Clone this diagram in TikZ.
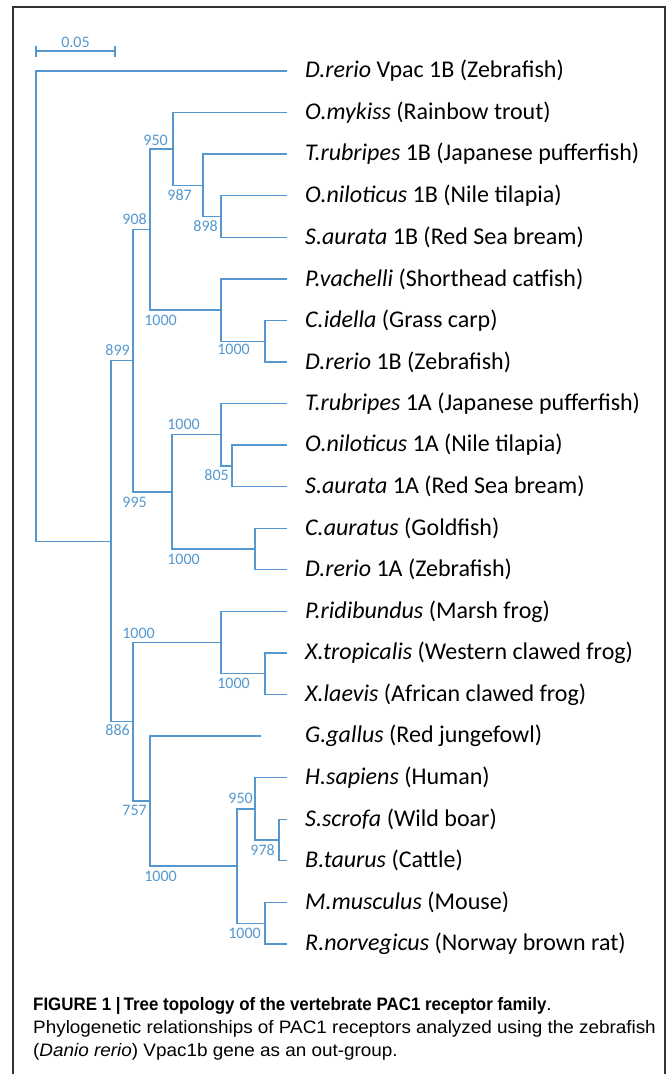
\documentclass[tikz,border=0pt]{standalone}
\usepackage{fontspec}
\setmainfont{Carlito}
\newfontfamily\capfont{Liberation Sans}[FakeStretch=1.05]
\newfontfamily\capboldfont{Liberation Sans Bold}[FakeStretch=0.94]
\usetikzlibrary{positioning,calc}
\definecolor{treeblue}{RGB}{84,152,207}

\begin{document}
\begin{tikzpicture}[x=1pt, y=-1pt,
        branch/.style={draw=treeblue, line width=1.3pt},
        tip/.style={font=\fontsize{24}{26}\selectfont, inner sep=0pt},
        boot/.style={font=\fontsize{16}{18}\selectfont, text=treeblue, inner sep=0pt, anchor=east},
        frame/.style={draw=black!80, line width=1.5pt}
    ]
    \useasboundingbox (0,0) rectangle (671,1074);
    \draw[frame] (13,1080) -- (13,7) -- (665,7) -- (665,1080);

    % scale bar
    \coordinate (s0) at (36,51);
    \coordinate (s1) at (115,51);
    \draw[branch] (s0) -- (s1);
    \draw[branch] (s0) ++(0,-5.5) -- ++(0,11);
    \draw[branch] (s1) ++(0,-5.5) -- ++(0,11);
    \node[boot, anchor=south] (scale) at ($(s0)!.5!(s1)+(0,-3)$) {0.05};

    % leaves (line ends)
    \coordinate (t1) at (287,71);
    \coordinate (t2) at (287,112.6);
    \coordinate (t3) at (287,154.1);
    \coordinate (t4) at (287,195.7);
    \coordinate (t5) at (287,237.3);
    \coordinate (t6) at (287,278.9);
    \coordinate (t7) at (287,320.4);
    \coordinate (t8) at (287,362);
    \coordinate (t9) at (287,403.6);
    \coordinate (t10) at (287,445.1);
    \coordinate (t11) at (287,486.7);
    \coordinate (t12) at (287,528.3);
    \coordinate (t13) at (287,569.8);
    \coordinate (t14) at (287,611.4);
    \coordinate (t15) at (287,653);
    \coordinate (t16) at (287,694.6);
    \coordinate (t17) at (261,736.1);
    \coordinate (t18) at (287,777.7);
    \coordinate (t19) at (287,819.3);
    \coordinate (t20) at (287,860.8);
    \coordinate (t21) at (287,902.4);
    \coordinate (t22) at (287,944);

    % inner nodes
    \coordinate (root) at (36,306);
    \coordinate (nA) at (111,541.3);
    \coordinate (nB) at (133,360.7);
    \coordinate (nC) at (150,229.5);
    \coordinate (nD) at (173,149);
    \coordinate (nD2) at (203,185.3);
    \coordinate (nD3) at (221,216.5);
    \coordinate (nE) at (221,310);
    \coordinate (nE2) at (265,341.2);
    \coordinate (nG) at (172,491.9);
    \coordinate (nH) at (221,434.8);
    \coordinate (nH2) at (232,465.9);
    \coordinate (nI) at (255,549);
    \coordinate (nK) at (133,721.8);
    \coordinate (nL) at (221,642.6);
    \coordinate (nL2) at (265,673.8);
    \coordinate (nM) at (150,801);
    \coordinate (nN) at (237,866);
    \coordinate (nO) at (255,808.9);
    \coordinate (nO2) at (279,840);
    \coordinate (nP) at (265,923.2);

    % branches
    \draw[branch] (root) |- (t1) (root) |- (nA);
    \draw[branch] (nA) |- (nB) (nA) |- (nK);
    \draw[branch] (nB) |- (nC) (nB) |- (nG);
    \draw[branch] (nC) |- (nD) (nC) |- (nE);
    \draw[branch] (nD) |- (t2) (nD) |- (nD2);
    \draw[branch] (nD2) |- (t3) (nD2) |- (nD3);
    \draw[branch] (nD3) |- (t4) (nD3) |- (t5);
    \draw[branch] (nE) |- (t6) (nE) |- (nE2);
    \draw[branch] (nE2) |- (t7) (nE2) |- (t8);
    \draw[branch] (nG) |- (nH) (nG) |- (nI);
    \draw[branch] (nH) |- (t9) (nH) |- (nH2);
    \draw[branch] (nH2) |- (t10) (nH2) |- (t11);
    \draw[branch] (nI) |- (t12) (nI) |- (t13);
    \draw[branch] (nK) |- (nL) (nK) |- (nM);
    \draw[branch] (nL) |- (t14) (nL) |- (nL2);
    \draw[branch] (nL2) |- (t15) (nL2) |- (t16);
    \draw[branch] (nM) |- (t17) (nM) |- (nN);
    \draw[branch] (nN) |- (nO) (nN) |- (nP);
    \draw[branch] (nO) |- (t18) (nO) |- (nO2);
    \draw[branch] (nO2) |- (t19) (nO2) |- (t20);
    \draw[branch] (nP) |- (t21) (nP) |- (t22);

    % species names
    \node[tip, right=18pt of t1] (l1) {\textit{D.rerio} Vpac 1B (Zebrafish)};
    \node[tip, right=18pt of t2] (l2) {\textit{O.mykiss} (Rainbow trout)};
    \node[tip, right=18pt of t3] (l3) {\textit{T.rubripes} 1B (Japanese pufferfish)};
    \node[tip, right=18pt of t4] (l4) {\textit{O.niloticus} 1B (Nile tilapia)};
    \node[tip, right=18pt of t5] (l5) {\textit{S.aurata} 1B (Red Sea bream)};
    \node[tip, right=18pt of t6] (l6) {\textit{P.vachelli} (Shorthead catfish)};
    \node[tip, right=18pt of t7] (l7) {\textit{C.idella} (Grass carp)};
    \node[tip, right=18pt of t8] (l8) {\textit{D.rerio} 1B (Zebrafish)};
    \node[tip, right=18pt of t9] (l9) {\textit{T.rubripes} 1A (Japanese pufferfish)};
    \node[tip, right=18pt of t10] (l10) {\textit{O.niloticus} 1A (Nile tilapia)};
    \node[tip, right=18pt of t11] (l11) {\textit{S.aurata} 1A (Red Sea bream)};
    \node[tip, right=18pt of t12] (l12) {\textit{C.auratus} (Goldfish)};
    \node[tip, right=18pt of t13] (l13) {\textit{D.rerio} 1A (Zebrafish)};
    \node[tip, right=18pt of t14] (l14) {\textit{P.ridibundus} (Marsh frog)};
    \node[tip, right=18pt of t15] (l15) {\textit{X.tropicalis} (Western clawed frog)};
    \node[tip, right=18pt of t16] (l16) {\textit{X.laevis} (African clawed frog)};
    \node[tip, right=44pt of t17] (l17) {\textit{G.gallus} (Red jungefowl)};
    \node[tip, right=18pt of t18] (l18) {\textit{H.sapiens} (Human)};
    \node[tip, right=18pt of t19] (l19) {\textit{S.scrofa} (Wild boar)};
    \node[tip, right=18pt of t20] (l20) {\textit{B.taurus} (Cattle)};
    \node[tip, right=18pt of t21] (l21) {\textit{M.musculus} (Mouse)};
    \node[tip, right=18pt of t22] (l22) {\textit{R.norvegicus} (Norway brown rat)};

    % bootstrap values
    \node[boot] (bD) at (168,140) {950};
    \node[boot] (bD2) at (192,195) {987};
    \node[boot] (bD3) at (218,226) {898};
    \node[boot] (bC) at (147,219) {908};
    \node[boot] (bE) at (177,320) {1000};
    \node[boot] (bE2) at (250,349) {1000};
    \node[boot] (bB) at (130,350) {899};
    \node[boot] (bH) at (200,424) {1000};
    \node[boot] (bH2) at (229,475) {805};
    \node[boot] (bG) at (147,502) {995};
    \node[boot] (bI) at (200,559) {1000};
    \node[boot] (bL) at (155,633) {1000};
    \node[boot] (bL2) at (250,683) {1000};
    \node[boot] (bK) at (130,730) {886};
    \node[boot] (bO) at (253,798) {950};
    \node[boot] (bM) at (147,810) {757};
    \node[boot] (bO2) at (275,850) {978};
    \node[boot] (bN) at (177,876) {1000};
    \node[boot] (bP) at (261,933) {1000};

    % caption
    \node[anchor=north west, inner sep=0pt, align=left,
          font=\capfont\fontsize{18}{23}\selectfont] (cap) at (33,997)
        {{\capboldfont FIGURE 1 |\,Tree topology of the vertebrate PAC1 receptor family}.\\
         Phylogenetic relationships of PAC1 receptors analyzed using the zebrafish\\
         (\textit{Danio rerio}) Vpac1b gene as an out-group.};
\end{tikzpicture}
\end{document}
